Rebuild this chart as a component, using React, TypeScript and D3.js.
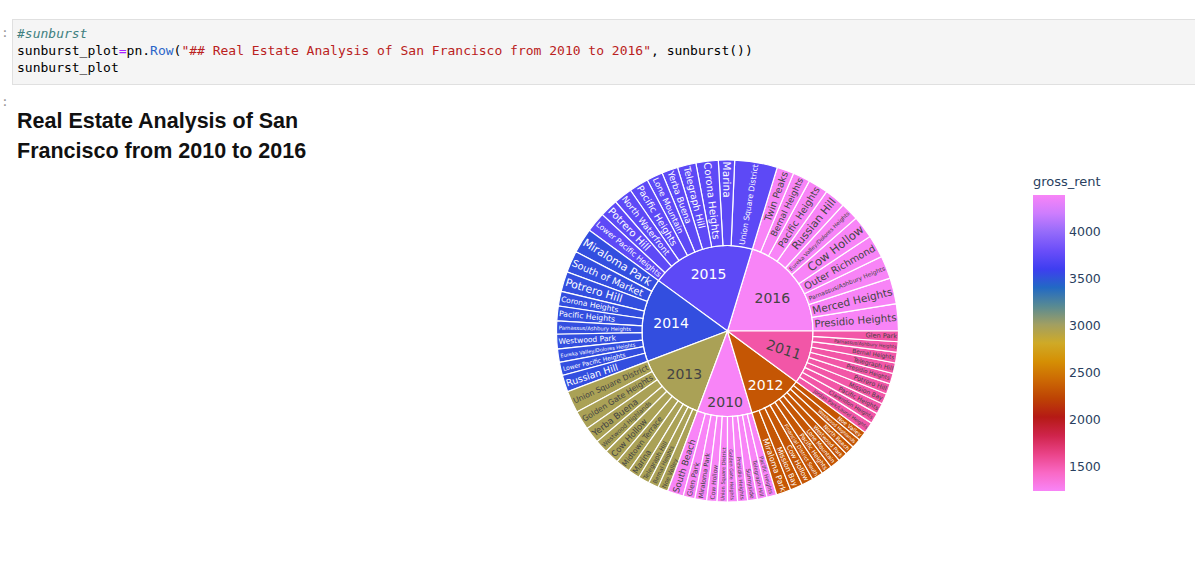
import React, { useMemo } from "react";
import * as d3 from "d3";

const WIDTH = 1195;
const HEIGHT = 579;
const CX = 727.5;
const CY = 331;
const RADIUS = 171;
const TAU = Math.PI * 2;
const LABEL_SIZE = 14;
const LABEL_FONT = '"DejaVu Sans", Verdana, sans-serif';

// yearly average gross rent (colour) and top-10 neighbourhoods by sale price / sqft (size)
const years = ["2010", "2011", "2012", "2013", "2014", "2015", "2016"];
const grossRent = [1239, 1530, 2324, 2971, 3528, 3739, 4390];

const hoods2010 = ["South Beach", "Glen Park", "Miraloma Park", "Cow Hollow", "Union Square District", "Golden Gate Heights", "Presidio Heights", "Sunnyside", "Telegraph Hill", "Pacific Heights"];
const price2010 = [908, 660, 660, 578, 578, 561, 561, 545, 545, 545];

const hoods2011 = ["Jordan Park/Laurel Heights", "Clarendon Heights", "Pacific Heights", "Mission Bay", "Potrero Hill", "Presidio Heights", "Telegraph Hill", "Bernal Heights", "Parnassus/Ashbury Heights", "Glen Park"];
const price2011 = [627, 611, 611, 594, 594, 594, 594, 594, 594, 594];

const hoods2012 = ["Miraloma Park", "Mission Bay", "Cow Hollow", "Financial District South", "Pacific Heights", "Lone Mountain", "Westwood Park", "North Beach", "Westwood Highlands", "Noe Valley"];
const price2012 = [825, 693, 660, 627, 594, 578, 545, 528, 528, 512];

const hoods2013 = ["Union Square District", "Golden Gate Heights", "Yerba Buena", "Westwood Highlands", "Cow Hollow", "Midtown Terrace", "Marina", "Telegraph Hill", "Bernal Heights", "Noe Valley"];
const price2013 = [1238, 1073, 908, 743, 825, 825, 660, 627, 578, 561];

const hoods2014 = ["Miraloma Park", "South of Market", "Potrero Hill", "Corona Heights", "Pacific Heights", "Parnassus/Ashbury Heights", "Westwood Park", "Eureka Valley/Dolores Heights", "Lower Pacific Heights", "Russian Hill"];
const price2014 = [1403, 1221, 1122, 825, 825, 743, 825, 743, 743, 941];

const hoods2015 = ["Union Square District", "Marina", "Corona Heights", "Telegraph Hill", "Yerba Buena", "Lone Mountain", "Pacific Heights", "North Waterfront", "Potrero Hill", "Lower Pacific Heights"];
const price2015 = [2393, 908, 1254, 1040, 908, 908, 1089, 1040, 1023, 1122];

const hoods2016 = ["Presidio Heights", "Merced Heights", "Parnassus/Ashbury Heights", "Outer Richmond", "Cow Hollow", "Eureka Valley/Dolores Heights", "Russian Hill", "Pacific Heights", "Bernal Heights", "Twin Peaks"];
const price2016 = [1518, 1452, 1287, 1287, 1271, 1023, 1172, 1122, 974, 957];

const hoodsByYear = [hoods2010, hoods2011, hoods2012, hoods2013, hoods2014, hoods2015, hoods2016];
const priceByYear = [price2010, price2011, price2012, price2013, price2014, price2015, price2016];

const colorbarTicks = [1500, 2000, 2500, 3000, 3500, 4000];

// plotly "mrybm" cyclical scale
const MRYBM = ["#f884f7", "#f968c4", "#ea4388", "#cf244b", "#b51a15", "#bd4304", "#cc6904", "#d58f04", "#cfaa27", "#a19f62", "#588a93", "#2269c4", "#3e3ef0", "#6b4ef9", "#956bfa", "#cd7dfe", "#f884f7"];

const RADIAL_YEAR_LABELS = new Set(["2011"]);

// largest scale (and distance along the bisector) at which a w x h box fits in the sector
function fitLabel(a0: number, a1: number, rIn: number, rOut: number, w: number, h: number, axis: number) {
    const mid = (a0 + a1) / 2;
    const span = a1 - a0;
    const ux = Math.cos(axis), uy = Math.sin(axis);
    const inside = (x: number, y: number) => {
        const r = Math.hypot(x, y);
        if (r < rIn || r > rOut) return false;
        let t = Math.atan2(y, x) - a0;
        t = ((t % TAU) + TAU) % TAU;
        return t <= span;
    };
    const pts: [number, number][] = [[1, 1], [1, -1], [-1, 1], [-1, -1], [0, 1], [0, -1], [1, 0], [-1, 0]];
    for (let s = 1; s >= 0.2; s -= 0.01) {
        const hw = (w * s) / 2 + 1, hh = (h * s) / 2 + 1;
        let dMin = Infinity, dMax = -Infinity;
        for (let d = rIn; d <= rOut; d += 0.5) {
            const cx = d * Math.cos(mid), cy = d * Math.sin(mid);
            let ok = true;
            for (const [a, b] of pts) {
                const x = cx + a * hw * ux - b * hh * uy;
                const y = cy + a * hw * uy + b * hh * ux;
                if (!inside(x, y)) { ok = false; break; }
            }
            if (ok) { dMin = Math.min(dMin, d); dMax = Math.max(dMax, d); }
        }
        if (dMax >= dMin) return { s, d: dMax - 0.3 * (dMax - dMin) };
    }
    return { s: 0.2, d: (rIn + rOut) / 2 };
}

const textColor = (c: string) => {
    const rgb = d3.rgb(c);
    const bright = (rgb.r * 299 + rgb.g * 587 + rgb.b * 114) / 1000;
    return bright < 128 ? "#ffffff" : "#444444";
};

export default function App() {
    const rentExtent = d3.extent(grossRent) as [number, number];
    const color = d3.scaleLinear<string>()
        .domain(MRYBM.map((_, i) => rentExtent[0] + (i / (MRYBM.length - 1)) * (rentExtent[1] - rentExtent[0])))
        .range(MRYBM)
        .interpolate(d3.interpolateRgb);

    const { nodes, labels } = useMemo(() => {
        const data = {
            name: "root",
            children: years.map((y, i) => ({
                name: y,
                rent: grossRent[i],
                children: hoodsByYear[i].map((n, j) => ({ name: n, value: priceByYear[i][j], rent: grossRent[i] })),
            })),
        };
        const root = d3.hierarchy<any>(data)
            .sum((d: any) => d.value ?? 0)
            .sort((a, b) => (a.depth === 1 ? (b.value ?? 0) - (a.value ?? 0) : 0));
        d3.partition<any>().size([TAU, 3])(root);
        const ring = RADIUS / 2;

        const ctx = document.createElement("canvas").getContext("2d")!;
        ctx.font = `${LABEL_SIZE}px ${LABEL_FONT}`;

        const all = root.descendants().filter((d) => d.depth > 0) as any[];
        const arc = d3.arc<any>()
            .innerRadius((d) => (d.y0 - 1) * ring)
            .outerRadius((d) => (d.y1 - 1) * ring)
            .startAngle((d) => Math.PI / 2 - d.x1)
            .endAngle((d) => Math.PI / 2 - d.x0);

        const nodes = all.map((d) => ({ path: arc(d) as string, fill: color(d.data.rent), key: `${d.parent.data.name}-${d.data.name}` }));

        const labels = all.map((d) => {
            const rIn = (d.y0 - 1) * ring;
            const rOut = (d.y1 - 1) * ring;
            const mid = (d.x0 + d.x1) / 2;
            const radial = d.depth === 2 || RADIAL_YEAR_LABELS.has(d.data.name);
            const w = ctx.measureText(d.data.name).width;
            const fit = fitLabel(d.x0, d.x1, rIn, rOut, w, LABEL_SIZE, radial ? mid : 0);
            let rot = 0;
            if (radial) {
                rot = (-mid * 180) / Math.PI;
                while (rot > 90) rot -= 180;
                while (rot <= -90) rot += 180;
            }
            return {
                key: `${d.parent.data.name}-${d.data.name}`,
                text: d.data.name,
                x: CX + fit.d * Math.cos(mid),
                y: CY - fit.d * Math.sin(mid),
                rot,
                size: LABEL_SIZE * fit.s,
                fill: textColor(color(d.data.rent)),
            };
        });
        return { nodes, labels };
    }, []);

    const barTop = 195, barBottom = 491, barX = 1033, barW = 32;
    const barScale = d3.scaleLinear().domain(rentExtent).range([barBottom, barTop]);

    return (
        <svg width={WIDTH} height={HEIGHT} style={{ position: "absolute", left: 0, top: 0, background: "#fff" }}>
            <defs>
                <linearGradient id="rentGrad" x1="0" y1="1" x2="0" y2="0">
                    {MRYBM.map((c, i) => (
                        <stop key={i} offset={i / (MRYBM.length - 1)} stopColor={c} />
                    ))}
                </linearGradient>
            </defs>

            {/* notebook code cell */}
            <rect x={12.5} y={19.5} width={1190} height={65} fill="#f5f5f5" stroke="#e0e0e0" />
            <g fontFamily='"DejaVu Sans Mono", monospace' fontSize={13} style={{ whiteSpace: "pre" }}>
                <text x={1} y={37} fill="#999">:</text>
                <text x={1} y={106} fill="#999">:</text>
                <text x={17} y={37.5} fill="#408080" fontStyle="italic">#sunburst</text>
                <text x={17} y={54.5} fill="#000">
                    <tspan>sunburst_plot</tspan>
                    <tspan fill="#aa22ff">=</tspan>
                    <tspan>pn.</tspan>
                    <tspan fill="#2a64c8">Row</tspan>
                    <tspan>(</tspan>
                    <tspan fill="#ba2121">"## Real Estate Analysis of San Francisco from 2010 to 2016"</tspan>
                    <tspan>, sunburst())</tspan>
                </text>
                <text x={17} y={71.5} fill="#000">sunburst_plot</text>
            </g>

            {/* markdown title */}
            <g fontFamily='"Liberation Sans", Arial, sans-serif' fontWeight="bold" fontSize={21.5} fill="#111">
                <text x={17} y={127.5}>Real Estate Analysis of San</text>
                <text x={17} y={157.5}>Francisco from 2010 to 2016</text>
            </g>

            {/* sunburst */}
            <g transform={`translate(${CX},${CY})`}>
                {nodes.map((n) => (
                    <path key={n.key} d={n.path} fill={n.fill} stroke="#ffffff" strokeWidth={1.2} />
                ))}
            </g>
            <g fontFamily={LABEL_FONT}>
                {labels.map((l) => (
                    <text
                        key={l.key}
                        transform={`translate(${l.x},${l.y}) rotate(${l.rot})`}
                        textAnchor="middle"
                        dominantBaseline="central"
                        fontSize={l.size}
                        fill={l.fill}
                    >
                        {l.text}
                    </text>
                ))}
            </g>

            {/* colorbar */}
            <g fontFamily={LABEL_FONT} fill="#2a3f5f">
                <text x={barX} y={185.5} fontSize={13}>gross_rent</text>
                <rect x={barX} y={barTop} width={barW} height={barBottom - barTop} fill="url(#rentGrad)" />
                {colorbarTicks.map((t) => (
                    <text key={t} x={barX + barW + 4} y={barScale(t)} dominantBaseline="central" fontSize={12.5}>
                        {t}
                    </text>
                ))}
            </g>
        </svg>
    );
}
